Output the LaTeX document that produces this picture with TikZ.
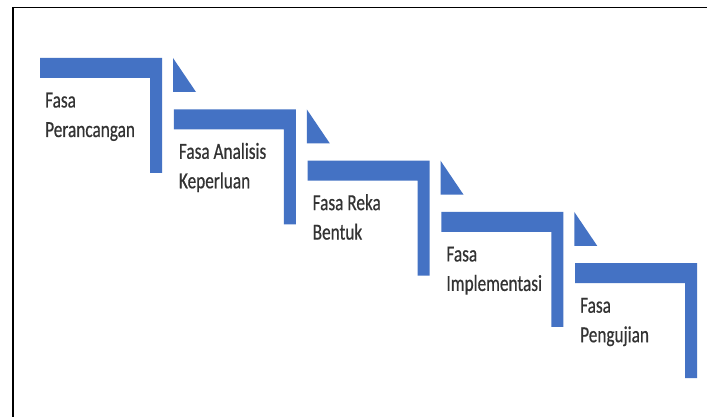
\documentclass[tikz,border=0pt]{standalone}
\usepackage{fontspec}
\setmainfont{Carlito}[FakeStretch=0.75,FakeBold=0.5]
\definecolor{stepblue}{HTML}{4472C4}
\definecolor{steptext}{HTML}{333333}
\tikzset{
  stepshape/.style={fill=stepblue, draw=none},
  steplabel/.style={anchor=base west, inner sep=0pt, text=steptext, font=\fontsize{23}{30}\selectfont},
  frameline/.style={draw=black, line width=1.8pt}
}
\begin{document}
\begin{tikzpicture}[x=1pt,y=1pt]
\useasboundingbox (0,0) rectangle (707,-417);
\fill[white] (0,0) rectangle (707,-417);
% frame (top and left edges)
\coordinate (ftr) at (707,-7.5);
\coordinate (ftl) at (13,-7.5);
\coordinate (fbl) at (13,-417);
\draw[frameline] (ftr) -- (ftl) -- (fbl);
% steps
\foreach \i/\la/\lb [evaluate=\i as \xo using 40+133.75*\i, evaluate=\i as \yo using 58+51.3*\i] in
  {0/Fasa/Perancangan, 1/Fasa Analisis/Keperluan, 2/Fasa Reka/Bentuk, 3/Fasa/Implementasi, 4/Fasa/Pengujian} {
  \fill[stepshape] (\xo,-\yo) -- (\xo+122,-\yo) -- (\xo+122,-\yo-115) -- (\xo+110,-\yo-115)
        -- (\xo+110,-\yo-20) -- (\xo,-\yo-20) -- cycle;
  \ifnum\i<4
    \fill[stepshape] (\xo+133,-\yo) -- (\xo+133,-\yo-34) -- (\xo+156,-\yo-34) -- cycle;
  \fi
  \node[steplabel] (la\i) at (\xo+5,-\yo-49.5) {\la};
  \node[steplabel] (lb\i) at (\xo+5,-\yo-79) {\lb};
}
\end{tikzpicture}
\end{document}
